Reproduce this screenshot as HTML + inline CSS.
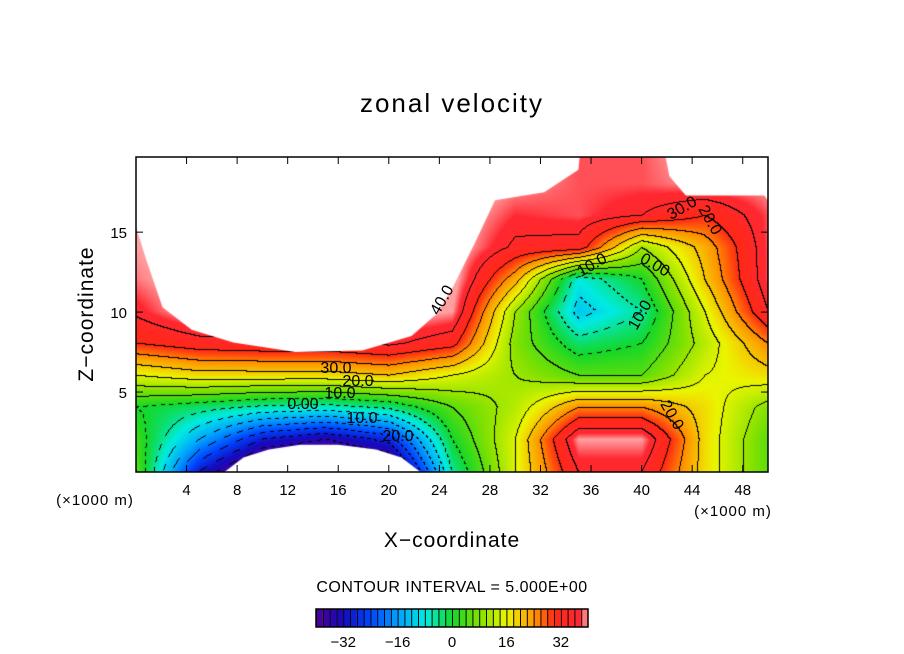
<!DOCTYPE html>
<html><head><meta charset="utf-8">
<style>
body{margin:0;background:#fff;}
#wrap{position:relative;width:904px;height:654px;background:#fff;font-family:"Liberation Sans",sans-serif;}
svg text{font-family:"Liberation Sans",sans-serif;fill:#000;}
canvas{position:absolute;left:136px;top:157px;}
</style></head>
<body>
<div id="wrap">
<canvas id="cv" width="632" height="315"></canvas>
<svg id="sv" width="904" height="654" style="position:absolute;left:0;top:0"></svg>
</div>
<script>
// data grid: zonal velocity at x = 0..50 step 5, z = 0..20 step 2
const xCats=[0,5,10,15,20,25,30,35,40,45,50];
const zCats=[0,2,4,6,8,10,12,14,16,18,20];
const row0=[5,-30,-48,-50,-45,-5,15,35,35,18,5];
const row1=[3,-15,-30,-35,-28,0,15,40,40,18,5];
const row2=[0,-3,-6,-7,-4,5,12,25,25,18,8];
const row3=[15,18,18,18,20,15,10,5,5,15,18];
const row4=[30,33,34,34,36,32,8,-3,0,12,25];
const row5=[36,42,42,42,42,40,10,-12,-5,15,35];
const row6=[39,42,42,42,42,42,22,-8,0,20,38];
const row7=[40,42,42,42,42,42,34,33,10,22,38];
const row8=[42,42,42,42,42,42,37,38,35,30,38];
const row9=[42,42,42,42,42,42,40,38,38,40,40];
const row10=[42,42,42,42,42,42,42,38,38,42,40];
const rows=[row0,row1,row2,row3,row4,row5,row6,row7,row8,row9,row10];
// out-of-range (white) regions
const maskTopLeft=[[0,19.7],[0,15.3],[0.8,13.3],[2.1,10.3],[4.4,8.9],[7.7,8.1],[12.6,7.5],[17.9,7.6],[21.8,8.5],[23.8,9.9],[25.1,11.6],[26.8,14.3],[28.4,17],[32.3,17.5],[35,18.9],[35.1,19.7]];
const maskTopRight=[[41.9,19.7],[42.2,18.5],[43.5,17.3],[49.7,17.3],[50,17],[50,19.7]];
const maskBottom=[[7,0],[8.5,0.9],[10.5,1.4],[13,1.7],[16,1.7],[19,1.4],[21,0.9],[22.5,0]];
const xTicks=[4,8,12,16,20,24,28,32,36,40,44,48];
const zTicks=[5,10,15];
const cbTicks=[-32,-16,0,16,32];

const X0=136,X1=768,Y0=472,Y1=157,XMAX=50,ZMAX=19.7;
const sx=x=>X0+(x/XMAX)*(X1-X0);
const sy=z=>Y0-(z/ZMAX)*(Y0-Y1);
const stops=[[-40,[80,0,150]],[-32,[20,10,190]],[-24,[0,70,255]],[-16,[0,160,255]],[-8,[0,235,225]],[0,[20,215,40]],[8,[130,225,0]],[16,[235,245,0]],[24,[255,150,0]],[30,[255,40,20]],[37,[255,40,50]],[40,[255,160,160]]];
function col(v){
  if(v<=stops[0][0])return stops[0][1];
  for(let i=1;i<stops.length;i++){if(v<=stops[i][0]){const a=stops[i-1],b=stops[i];const t=(v-a[0])/(b[0]-a[0]);return a[1].map((c,k)=>Math.round(c+(b[1][k]-c)*t));}}
  return stops[stops.length-1][1];
}
function val(x,z){
  let fx=x/5,fz=z/2;let i=Math.min(9,Math.floor(fx)),j=Math.min(9,Math.floor(fz));
  let tx=fx-i,tz=fz-j;
  const a=rows[j][i],b=rows[j][i+1],c=rows[j+1][i],d=rows[j+1][i+1];
  return a*(1-tx)*(1-tz)+b*tx*(1-tz)+c*(1-tx)*tz+d*tx*tz;
}
const cv=document.getElementById('cv');const ctx=cv.getContext('2d');
const W=cv.width,H=cv.height;const img=ctx.createImageData(W,H);
const band=new Int16Array(W*H);const vals=new Float32Array(W*H);
for(let py=0;py<H;py++)for(let px=0;px<W;px++){
  const x=px/W*XMAX,z=(H-1-py)/H*ZMAX;const v=Math.max(-39.99,Math.min(39.99,val(x,z)));vals[py*W+px]=v;band[py*W+px]=Math.floor(v/5);}
for(let py=0;py<H;py++)for(let px=0;px<W;px++){
  const k=py*W+px;let c=col(vals[k]);
  const b=band[k];
  if((px<W-1&&band[k+1]!==b)||(py<H-1&&band[k+W]!==b)){
    const lv=Math.max(b,(px<W-1?band[k+1]:b),(py<H-1?band[k+W]:b))*5;
    if(!(lv<=0&&((px+py)>>2)%2))c=[0,0,0];
  }
  img.data[k*4]=c[0];img.data[k*4+1]=c[1];img.data[k*4+2]=c[2];img.data[k*4+3]=255;}
ctx.putImageData(img,0,0);
function maskPoly(pts){ctx.fillStyle='#fff';ctx.beginPath();pts.forEach((p,i)=>{const X=sx(p[0])-X0,Y=sy(p[1])-Y1;i?ctx.lineTo(X,Y):ctx.moveTo(X,Y);});ctx.closePath();ctx.fill();}
maskPoly(maskTopLeft);maskPoly(maskTopRight);maskPoly(maskBottom);

const NS='http://www.w3.org/2000/svg';const sv=document.getElementById('sv');
function mk(t,at,txt){const e=document.createElementNS(NS,t);for(const k in at)e.setAttribute(k,at[k]);if(txt!==undefined)e.textContent=txt;sv.appendChild(e);return e;}
let e;
e=mk('rect',{x:X0,y:Y1,width:X1-X0,height:Y0-Y1,fill:'none',stroke:'#000','stroke-width':1.5});


xTicks.forEach(t=>{
  e=mk('line',{x1:sx(t),x2:sx(t),y1:Y0,y2:Y0-7,stroke:'#000'});
  
  
  mk('line',{x1:sx(t),x2:sx(t),y1:Y1,y2:Y1+7,stroke:'#000'});
  e=mk('text',{x:sx(t),y:495,'font-size':15,'text-anchor':'middle'},t);
  
  
});
zTicks.forEach(t=>{
  e=mk('line',{x1:X0,x2:X0+7,y1:sy(t),y2:sy(t),stroke:'#000'});
  
  
  mk('line',{x1:X1,x2:X1-7,y1:sy(t),y2:sy(t),stroke:'#000'});
  e=mk('text',{x:127,y:sy(t)+6,'font-size':15,'text-anchor':'end'},t);
  
  
});
[['30.0',336,373,0],['20.0',358,386,0],['10.0',340,398,0],['0.00',303,409,0],['10.0',362,423,0],['20.0',398,441,0],['40.0',442,305,-60],['10.0',592,270,-30],['30.0',682,213,-30],['20.0',710,225,60],['0.00',655,270,30],['10.0',640,320,-60],['20.0',672,420,60]].forEach(l=>{
  e=mk('text',{x:l[1],y:l[2],'font-size':16,'text-anchor':'middle',transform:`rotate(${l[3]} ${l[1]} ${l[2]-5})`},l[0]);
  
  
});
e=mk('text',{x:452,y:112,'font-size':26,'text-anchor':'middle','letter-spacing':2},'zonal velocity');

e=mk('text',{x:0,y:0,'font-size':21,'text-anchor':'middle','letter-spacing':1,transform:'translate(93 314) rotate(-90)'},'Z−coordinate');

e=mk('text',{x:452,y:547,'font-size':21,'text-anchor':'middle','letter-spacing':1},'X−coordinate');

e=mk('text',{x:95,y:505,'font-size':15,'text-anchor':'middle','letter-spacing':1},'(×1000 m)');

e=mk('text',{x:733,y:516,'font-size':15,'text-anchor':'middle','letter-spacing':1},'(×1000 m)');

e=mk('text',{x:452,y:592,'font-size':16,'text-anchor':'middle','letter-spacing':0.5},'CONTOUR INTERVAL = 5.000E+00');

// colorbar
const CB0=316,CB1=588,cbx=v=>CB0+(v+40)/80*(CB1-CB0);
for(let v=-40;v<40;v+=2){
  e=mk('rect',{x:cbx(v),y:609,width:cbx(v+2)-cbx(v),height:18,fill:`rgb(${col(v+1).join(',')})`});
  
  
  mk('line',{x1:cbx(v)+0.5,x2:cbx(v)+0.5,y1:609,y2:627,stroke:'#000','stroke-width':1});
}
e=mk('rect',{x:CB0,y:609,width:CB1-CB0,height:18,fill:'none',stroke:'#000','stroke-width':1.5});

cbTicks.forEach(t=>{
  e=mk('text',{x:cbx(t),y:647,'font-size':15,'text-anchor':'middle'},t<0?'−'+(-t):t);
  
  
});
</script>
</body></html>
